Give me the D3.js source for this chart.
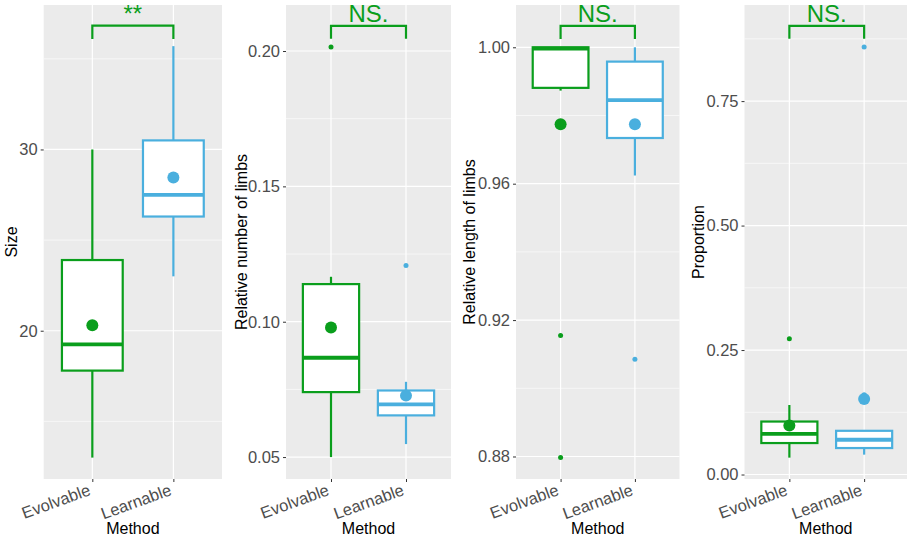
<!DOCTYPE html>
<html>
<head>
<meta charset="utf-8">
<script src="https://cdn.jsdelivr.net/npm/d3@7"></script>
<style>
  body { margin: 0; background: #ffffff; }
  svg { display: block; font-family: "Liberation Sans", Arial, Helvetica, sans-serif; }
</style>
</head>
<body>
<svg id="chart" width="907" height="543"></svg>
<script>
// ---------------- DATA ----------------
const methods = ["Evolvable", "Learnable"];
const yTitles = ["Size", "Relative number of limbs", "Relative length of limbs", "Proportion"];
const sigLabels = ["**", "NS.", "NS.", "NS."];

// box stats per method: [lower whisker, Q1, median, Q3, upper whisker]
const sizeStats = [[13.0, 17.8, 19.25, 23.9, 30.0], [23.0, 26.3, 27.5, 30.5, 35.7]];
const sizeMeans = [20.3, 28.45];
const sizeOutliers = [[], []];

const limbCountStats = [[0.050, 0.0740, 0.0867, 0.1139, 0.1166], [0.0548, 0.0654, 0.0695, 0.0746, 0.0778]];
const limbCountMeans = [0.0979, 0.0727];
const limbCountOutliers = [[0.2015], [0.1208]];

const limbLengthStats = [[0.9873, 0.9881, 0.9996, 1.0, 1.0], [0.9624, 0.9734, 0.9845, 0.9958, 1.0]];
const limbLengthMeans = [0.9774, 0.9774];
const limbLengthOutliers = [[0.9155, 0.8797], [0.9085]];

const propStats = [[0.0339, 0.0632, 0.0818, 0.1064, 0.1396], [0.0399, 0.0532, 0.0698, 0.0878, 0.0878]];
const propMeans = [0.0984, 0.1516];
const propOutliers = [[0.2728], [0.8587, 0.160]];

// axis domains and ticks
const sizeDomain = [11.82, 37.97];
const sizeTicks = [20, 30];
const sizeMinor = [15, 25, 35];
const limbCountDomain = [0.0419, 0.2170];
const limbCountTicks = [0.05, 0.10, 0.15, 0.20];
const limbCountMinor = [0.075, 0.125, 0.175];
const limbLengthDomain = [0.8734, 1.0124];
const limbLengthTicks = [0.88, 0.92, 0.96, 1.00];
const limbLengthMinor = [0.90, 0.94, 0.98];
const propDomain = [-0.009, 0.943];
const propTicks = [0.00, 0.25, 0.50, 0.75];
const propMinor = [0.125, 0.375, 0.625, 0.875];
const tickDigits = [0, 2, 2, 2];

// significance brackets: [bar level, foot level]
const bracketLevels = [[36.83, 36.10], [0.2093, 0.2045], [1.0063, 1.0024], [0.901, 0.875]];

// ---------------- LAYOUT / STYLE ----------------
const green = "#0a9e1c";
const blue = "#4aafde";
const colors = [green, blue];
const plotTop = 5, plotBottom = 479;
const panelsX = [[43.7, 222], [286, 451], [516, 679.5], [744.5, 909]];
const titleOffsets = [26.5, 39, 41, 40.5];

const panels = [
  {stats: sizeStats, means: sizeMeans, outliers: sizeOutliers, domain: sizeDomain, ticks: sizeTicks, minor: sizeMinor},
  {stats: limbCountStats, means: limbCountMeans, outliers: limbCountOutliers, domain: limbCountDomain, ticks: limbCountTicks, minor: limbCountMinor},
  {stats: limbLengthStats, means: limbLengthMeans, outliers: limbLengthOutliers, domain: limbLengthDomain, ticks: limbLengthTicks, minor: limbLengthMinor},
  {stats: propStats, means: propMeans, outliers: propOutliers, domain: propDomain, ticks: propTicks, minor: propMinor}
];

const svg = d3.select("#chart");

panels.forEach((p, i) => {
  const [x0, x1] = panelsX[i];
  const g = svg.append("g");
  const x = d3.scalePoint().domain(methods).range([x0, x1]).padding(0.6);
  const y = d3.scaleLinear().domain(p.domain).range([plotBottom, plotTop]);
  const step = x.step();
  const boxW = step * 0.75;

  // panel background
  g.append("rect").attr("x", x0).attr("y", plotTop).attr("width", x1 - x0).attr("height", plotBottom - plotTop)
    .attr("fill", "#ebebeb");

  // grid
  g.selectAll(".minor").data(p.minor).join("line")
    .attr("x1", x0).attr("x2", x1).attr("y1", d => y(d)).attr("y2", d => y(d))
    .attr("stroke", "#ffffff").attr("stroke-width", 0.6);
  g.selectAll(".major").data(p.ticks).join("line")
    .attr("x1", x0).attr("x2", x1).attr("y1", d => y(d)).attr("y2", d => y(d))
    .attr("stroke", "#ffffff").attr("stroke-width", 1.2);
  g.selectAll(".vmajor").data(methods).join("line")
    .attr("x1", d => x(d)).attr("x2", d => x(d)).attr("y1", plotTop).attr("y2", plotBottom)
    .attr("stroke", "#ffffff").attr("stroke-width", 1.2);

  // y axis
  const yAxis = d3.axisLeft(y).tickValues(p.ticks).tickSize(3).tickPadding(3)
    .tickFormat(d => d.toFixed(tickDigits[i]));
  const ya = g.append("g").attr("transform", `translate(${x0},0)`).call(yAxis);
  ya.select(".domain").remove();
  ya.selectAll(".tick line").attr("stroke", "#333333").attr("stroke-width", 1);
  ya.selectAll(".tick text").attr("fill", "#4d4d4d").style("font-size", "16.5px")
    .style("font-family", "'Liberation Sans', Arial, sans-serif");

  // x axis
  const xAxis = d3.axisBottom(x).tickSize(3).tickPadding(0);
  const xa = g.append("g").attr("transform", `translate(0,${plotBottom})`).call(xAxis);
  xa.select(".domain").remove();
  xa.selectAll(".tick line").attr("stroke", "#333333").attr("stroke-width", 1);
  xa.selectAll(".tick text").attr("fill", "#4d4d4d").style("font-size", "16.5px")
    .style("font-family", "'Liberation Sans', Arial, sans-serif")
    .attr("text-anchor", "end").attr("dy", null).attr("y", null)
    .attr("transform", "translate(-1.3,15.5) rotate(-20)");

  // y title
  const ymid = (plotTop + plotBottom) / 2;
  g.append("text").attr("transform", `translate(${x0 - titleOffsets[i]},${ymid}) rotate(-90)`)
    .attr("text-anchor", "middle").attr("fill", "#000").style("font-size", "16px")
    .text(yTitles[i]);

  // x title
  g.append("text").attr("x", (x0 + Math.min(x1, 907)) / 2).attr("y", 534)
    .attr("text-anchor", "middle").attr("fill", "#000").style("font-size", "16px")
    .text("Method");

  // boxes
  methods.forEach((m, k) => {
    const s = p.stats[k];
    const cx = x(m);
    const c = colors[k];
    // whiskers
    g.append("line").attr("x1", cx).attr("x2", cx).attr("y1", y(s[0])).attr("y2", y(s[1]))
      .attr("stroke", c).attr("stroke-width", 2.2);
    g.append("line").attr("x1", cx).attr("x2", cx).attr("y1", y(s[3])).attr("y2", y(s[4]))
      .attr("stroke", c).attr("stroke-width", 2.2);
    // box
    g.append("rect").attr("x", cx - boxW / 2).attr("y", y(s[3])).attr("width", boxW)
      .attr("height", y(s[1]) - y(s[3])).attr("fill", "#ffffff").attr("stroke", c).attr("stroke-width", 2.2);
    // median
    g.append("line").attr("x1", cx - boxW / 2).attr("x2", cx + boxW / 2).attr("y1", y(s[2])).attr("y2", y(s[2]))
      .attr("stroke", c).attr("stroke-width", 3.8);
    // outliers
    g.selectAll(null).data(p.outliers[k]).join("circle")
      .attr("cx", cx).attr("cy", d => y(d)).attr("r", 2.5).attr("fill", c);
    // mean
    g.append("circle").attr("cx", cx).attr("cy", y(p.means[k])).attr("r", 6).attr("fill", c);
  });

  // significance bracket
  const [bar, foot] = bracketLevels[i];
  const xa0 = x(methods[0]), xa1 = x(methods[1]);
  g.append("path")
    .attr("d", d3.line()([[xa0, y(foot)], [xa0, y(bar)], [xa1, y(bar)], [xa1, y(foot)]]))
    .attr("fill", "none").attr("stroke", green).attr("stroke-width", 2.2);
  g.append("text").attr("x", (xa0 + xa1) / 2).attr("y", y(bar) - 4)
    .attr("text-anchor", "middle").attr("fill", green).style("font-size", "24px")
    .text(sigLabels[i]);
});
</script>
</body>
</html>
